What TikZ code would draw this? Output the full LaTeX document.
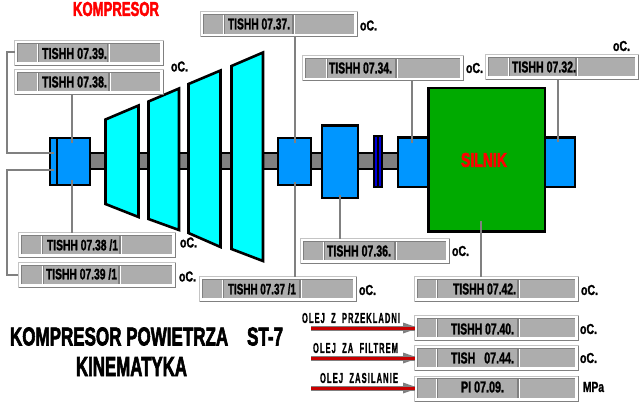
\documentclass[tikz,border=0pt]{standalone}
\usepackage{fontspec}
\usepackage{graphicx}
\setmainfont{Liberation Sans}
\newfontfamily\heavy[FakeBold=3]{Liberation Sans Bold}
\newfontfamily\medh[FakeBold=1.5]{Liberation Sans Bold}
\newfontfamily\spaced[FakeBold=1.5,LetterSpace=14]{Liberation Sans Bold}
\definecolor{pgray}{HTML}{ADADAD}
\definecolor{pdark}{HTML}{808080}
\definecolor{plight}{HTML}{C4C4C4}
\definecolor{bluebox}{HTML}{0096FF}
\definecolor{bladecol}{HTML}{00FFFF}
\definecolor{motor}{HTML}{00AA00}
\definecolor{oil}{HTML}{C80000}
\tikzset{
  x=1pt,y=-1pt,
  outl/.style={draw=black,line width=2.6pt,miter limit=10},
  unit/.style={outl,fill=bluebox,inner sep=0,outer sep=0,anchor=north west},
  blade/.style={outl,fill=bladecol},
  conn/.style={draw=pdark,line width=2pt},
  panelbox/.style={draw=plight,line width=1pt,fill=white,inner sep=0,outer sep=0},
  lab/.style={inner sep=0,outer sep=0,text=black},
}
\newcommand{\mybox}[7]{% name x1 y1 x2 y2 style
  \pgfmathsetmacro\bw{#4-#2}\pgfmathsetmacro\bh{#5-#3}%
  \node[#6,minimum width=\bw pt,minimum height=\bh pt] (#1) at (#2,#3) {#7};}
\newcommand{\gpanel}[7]{% name x1 y1 x2 y2 d1 d2
  \pgfmathsetmacro\pw{#4-#2}\pgfmathsetmacro\ph{#5-#3}%
  \node[panelbox,minimum width=\pw pt,minimum height=\ph pt,anchor=north west] (#1) at (#2,#3) {};
  \draw[pdark,line width=1pt] (#1.north east) -- (#1.south east) -- (#1.south west);
  \fill[pgray] (#2+3,#3+3) rectangle (#4-3,#5-3);
  \draw[pdark,line width=1pt] (#2+2.5,#5-3) -- (#2+2.5,#3+2.5) -- (#4-3,#3+2.5);
  \draw[white,line width=1pt] (#2+3,#5-2.5) -- (#4-2.5,#5-2.5) -- (#4-2.5,#3+3);
  \draw[white,line width=1pt] (#6-1,#3+3) -- (#6-1,#5-3);
  \draw[pdark,line width=1pt] (#6,#3+3) -- (#6,#5-3);
  \draw[pdark,line width=1.5pt] (#7-1,#3+3) -- (#7-1,#5-3);
  \draw[white,line width=1pt] (#7+.5,#3+3) -- (#7+.5,#5-3);
}
\newcommand{\flab}[7][black]{% color name x1 x2 yc h text
  \pgfmathsetmacro\lw{#4-#3}\pgfmathsetmacro\lx{(#3+#4)/2}%
  \node[lab,text=#1] (#2) at (\lx,#5) {\resizebox{\lw pt}{#6pt}{\medh #7}};}
\newcommand{\slab}[7][black]{%
  \pgfmathsetmacro\lw{#4-#3}\pgfmathsetmacro\lx{(#3+#4)/2}%
  \node[lab,text=#1] (#2) at (\lx,#5) {\resizebox{\lw pt}{#6pt}{\spaced #7}};}
\newcommand{\hlab}[7][black]{%
  \pgfmathsetmacro\lw{#4-#3}\pgfmathsetmacro\lx{(#3+#4)/2}%
  \node[lab,text=#1] (#2) at (\lx,#5) {\resizebox{\lw pt}{#6pt}{\heavy #7}};}
\begin{document}
\begin{tikzpicture}
\useasboundingbox (0,0) rectangle (640,408);
\fill[white] (0,0) rectangle (640,408);
% shaft
\draw[outl,fill=pdark] (88,153) rectangle (400,169);
% blades
\draw[blade] (105.5,119.5) -- (138.5,105.5) -- (138.5,217) -- (105.5,204) -- cycle;
\draw[blade] (148.5,101.5) -- (179,88.5) -- (179,230) -- (148.5,219) -- cycle;
\draw[blade] (188.5,84) -- (220.5,70.5) -- (220.5,247) -- (188.5,233) -- cycle;
\draw[blade] (231.5,66) -- (263,52.5) -- (263,261) -- (231.5,249) -- cycle;
% units
\mybox{bthin}{50}{138}{58}{185}{unit}{}
\mybox{b1}{57}{138}{90}{185}{unit}{}
\mybox{b2}{278}{138}{311}{185}{unit}{}
\mybox{b3}{322}{125.5}{358}{198}{unit}{}
\mybox{cpl}{374}{136}{382}{187}{outl,fill={rgb,255:red,0;green,0;blue,220},inner sep=0,outer sep=0,anchor=north west}{}
\draw[black,line width=1.2pt] (cpl.north) -- (cpl.south);
\mybox{b4}{398}{137.5}{430}{187}{unit}{}
\mybox{b5}{544}{137.5}{575}{187}{unit}{}
\mybox{sil}{428.5}{88}{545}{231.5}{outl,fill=motor,inner sep=0,outer sep=0,anchor=north west}{}
% panels
\gpanel{p39}{14.5}{40.5}{163}{65}{38}{108.5}
\gpanel{p38}{14.5}{69.5}{163}{94}{38}{110}
\gpanel{p37}{200.5}{11.5}{357}{36.5}{224}{294}
\gpanel{p34}{302.5}{55.5}{463}{80.5}{327}{397}
\gpanel{p32}{485.5}{54.5}{638}{79}{509}{577}
\gpanel{p38a}{18.5}{232.5}{175}{257}{42}{121}
\gpanel{p39a}{18.5}{262.5}{175}{287}{43}{120}
\gpanel{p37a}{199.5}{276.5}{356}{301}{223}{301}
\gpanel{p36}{300.5}{238.5}{449}{263}{324}{396}
\gpanel{p42}{414.5}{276.5}{578}{301}{437}{519}
\gpanel{p40}{414.5}{315.5}{578}{340}{437}{519}
\gpanel{p44}{414.5}{345.5}{578}{370}{437}{519}
\gpanel{p09}{414.5}{376}{578}{401}{437}{519}
% connectors
\coordinate (e39) at (p39.west |- 0,52);
\coordinate (k39) at (7,52);
\coordinate (m39) at (7,153);
\coordinate (t39) at (54,153);
\draw[conn] (e39) -- (k39) -- (m39) -- (t39);
\coordinate (e39a) at (18,275);
\coordinate (k39a) at (7,275);
\coordinate (m39a) at (7,170);
\coordinate (t39a) at (54,170);
\draw[conn] (e39a) -- (k39a) -- (m39a) -- (t39a);
\coordinate (t38) at (72,143);
\draw[conn] (t38 |- p38.south) -- (t38);
\coordinate (t38a) at (72,180);
\draw[conn] (t38a |- p38a.north) -- (t38a);
\coordinate (t37) at (295,143);
\draw[conn] (t37 |- p37.south) -- (t37);
\coordinate (t37a) at (295,182);
\draw[conn] (t37a |- p37a.north) -- (t37a);
\coordinate (t36) at (340,195);
\draw[conn] (t36 |- p36.north) -- (t36);
\coordinate (t34) at (412,143);
\draw[conn] (t34 |- p34.south) -- (t34);
\coordinate (t32) at (558,142);
\draw[conn] (t32 |- p32.south) -- (t32);
\coordinate (t42) at (481,221);
\draw[conn] (t42 |- p42.north) -- (t42);
% oil arrows
\foreach \n/\yy/\pn in {a/328/p40,b/358/p44,c/388/p09}{
  \coordinate (o\n) at (311,\yy);
  \coordinate (h\n) at (p40.west |- 0,\yy);
  \fill[pdark] (403,\yy-5.5) -- (413,\yy-2) -- (413,\yy+2) -- (403,\yy+5.5) -- cycle;
  \draw[pdark,line width=5pt] (o\n) -- (h\n);
  \draw[oil,line width=3pt] (o\n) -- (h\n);
}
% panel labels
\flab{l39}{42}{107}{53.5}{11}{TISHH 07.39.}
\flab{l38}{42}{107}{82}{11}{TISHH 07.38.}
\flab{l37}{228}{290}{24}{11}{TISHH 07.37.}
\flab{l34}{329}{392}{68}{11}{TISHH 07.34.}
\flab{l32}{512}{576}{67}{11}{TISHH 07.32.}
\flab{l38a}{47}{118}{245}{11}{TISHH 07.38 /1}
\flab{l39a}{46}{117}{274}{11}{TISHH 07.39 /1}
\flab{l37a}{228}{296}{289}{11}{TISHH 07.37 /1}
\flab{l36}{327}{391}{251}{11}{TISHH 07.36.}
\flab{l42}{453}{516}{289}{11}{TISHH 07.42.}
\flab{l40}{451}{514}{329}{11}{TISHH 07.40.}
\flab{l44}{451}{514}{358}{11}{TISH\ \ \ 07.44.}
\flab{l09}{461}{504}{387}{11}{PI 07.09.}
% units
\flab{u1}{171}{188}{66.5}{10}{oC.}
\flab{u2}{360}{377}{25.5}{10}{oC.}
\flab{u3}{466}{483}{68}{10}{oC.}
\flab{u4}{613}{630}{46}{10}{oC.}
\flab{u5}{180}{197}{242.5}{10}{oC.}
\flab{u6}{179}{196}{276.5}{10}{oC.}
\flab{u7}{359}{376}{290}{10}{oC.}
\flab{u8}{452}{469}{251}{10}{oC.}
\flab{u9}{581}{598}{290}{10}{oC.}
\flab{u10}{580}{597}{329}{10}{oC.}
\flab{u11}{580}{597}{358}{10}{oC.}
\flab{u12}{583}{604}{387}{10}{MPa}
% oil labels
\slab{o1}{302}{400}{318}{10}{OLEJ\ \ Z\ \ PRZEKLADNI}
\slab{o2}{313}{398}{348}{10}{OLEJ\ \ ZA\ \ FILTREM}
\slab{o3}{320}{398}{378}{10}{OLEJ\ \ ZASILANIE}
% titles
\hlab[red]{tk}{73}{159}{9}{14}{KOMPRESOR}
\hlab[red]{ts}{461}{507}{160}{14}{SILNIK}
\hlab{t1}{10}{283}{336.5}{18}{KOMPRESOR POWIETRZA\ \ \ \ ST-7}
\hlab{t2}{76}{187}{366.5}{19}{KINEMATYKA}
\end{tikzpicture}
\end{document}
